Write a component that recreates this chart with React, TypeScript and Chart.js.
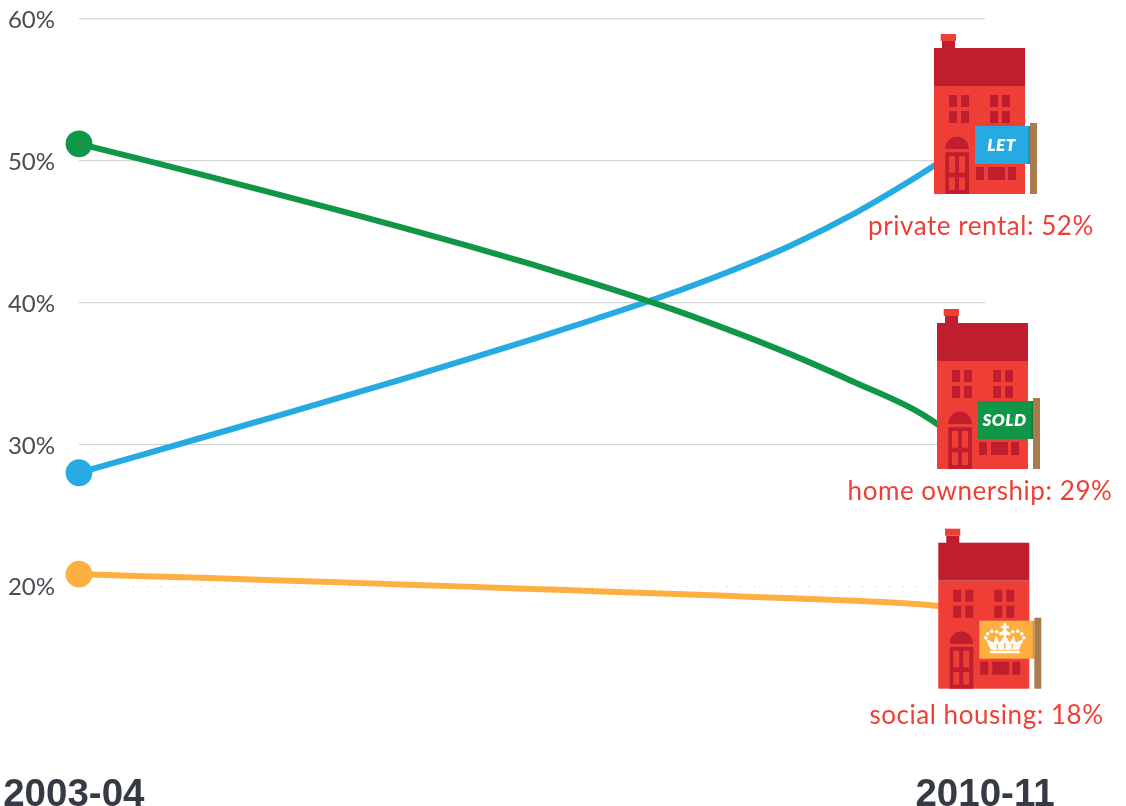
import React, { useEffect, useRef } from "react";
import { Chart, registerables } from "chart.js";

Chart.register(...registerables);

const years = [2003.5, 2004, 2004.5, 2005, 2005.5, 2006, 2006.5, 2007, 2007.5, 2008, 2008.5, 2009, 2009.5, 2010, 2010.5];
const homeOwnership = [51.2, 50.06, 48.9, 47.72, 46.52, 45.29, 44.02, 42.69, 41.29, 39.8, 38.15, 36.35, 34.35, 32.2, 29];
const privateRental = [28.0, 29.3, 30.61, 31.93, 33.26, 34.61, 35.99, 37.41, 38.88, 40.41, 42.11, 44.03, 46.33, 49.03, 52];
const socialHousing = [20.85, 20.71, 20.57, 20.42, 20.27, 20.12, 19.97, 19.81, 19.65, 19.49, 19.32, 19.15, 18.97, 18.72, 18.2];
const periodLabels = ["2003-04", "2010-11"];
const periodTicks = [2003.46, 2010.5];
const endLabels = ["private rental: 52%", "home ownership: 29%", "social housing: 18%"];
const signs = ["LET", "SOLD", "crown"];

const GREEN = "#0f9647";
const BLUE = "#25aae1";
const YELLOW = "#fdb040";
const RED = "#ef3e36";
const DARK = "#be1e2d";
const POLE = "#a97c50";

function crown(ctx: CanvasRenderingContext2D, cx: number, cy: number) {
  ctx.fillStyle = "#fff";
  const dot = (x: number, y: number, r = 1.8) => {
    ctx.beginPath();
    ctx.arc(cx + x, cy + y, r, 0, Math.PI * 2);
    ctx.fill();
  };
  ctx.beginPath();
  ctx.moveTo(cx - 14, cy + 9);
  ctx.lineTo(cx - 19, cy - 2);
  ctx.lineTo(cx - 11, cy + 2);
  ctx.lineTo(cx - 9, cy - 5);
  ctx.lineTo(cx - 5, cy + 2);
  ctx.lineTo(cx, cy - 6);
  ctx.lineTo(cx + 5, cy + 2);
  ctx.lineTo(cx + 9, cy - 5);
  ctx.lineTo(cx + 11, cy + 2);
  ctx.lineTo(cx + 19, cy - 2);
  ctx.lineTo(cx + 14, cy + 9);
  ctx.closePath();
  ctx.fill();
  ctx.fillRect(cx - 15, cy + 10, 30, 2.6);
  [[-19, -3], [-17, -7], [-13, -9.5], [-8, -9], [-4, -7], [4, -7], [8, -9], [13, -9.5], [17, -7], [19, -3]].forEach(([x, y]) => dot(x, y));
  ctx.fillRect(cx - 1.3, cy - 18, 2.6, 11);
  ctx.fillRect(cx - 4, cy - 15, 8, 2.6);
  dot(0, -8, 3);
  ctx.fillStyle = YELLOW;
  ctx.fillRect(cx - 0.7, cy + 2, 1.4, 6);
  ctx.fillRect(cx - 8, cy + 3, 1.4, 5);
  ctx.fillRect(cx + 6.6, cy + 3, 1.4, 5);
}

function house(ctx: CanvasRenderingContext2D, x0: number, top: number, kind: string, color: string) {
  const r = (c: string, x: number, y: number, w: number, h: number) => {
    ctx.fillStyle = c;
    ctx.fillRect(x0 + x, top + y, w, h);
  };
  r(DARK, 8, -7, 13, 8);
  r(RED, 6.7, -14, 15.3, 7);
  r(DARK, 0, 0, 91, 38);
  r(RED, 0, 38, 91, 108);
  [15, 27, 56, 68].forEach((x) => {
    r(DARK, x, 47, 8, 12);
    r(DARK, x, 63, 8, 12);
  });
  ctx.fillStyle = DARK;
  ctx.beginPath();
  ctx.moveTo(x0 + 11.3, top + 101);
  ctx.arc(x0 + 23, top + 100.5, 11.7, Math.PI, 0);
  ctx.lineTo(x0 + 34.7, top + 101);
  ctx.closePath();
  ctx.fill();
  r(DARK, 11.3, 104.3, 23.7, 41.7);
  [15, 25].forEach((x) => {
    r(RED, x, 108, 6, 16.7);
    r(RED, x, 129.3, 6, 12.7);
  });
  r(DARK, 42, 119, 8, 13);
  r(DARK, 54, 119, 17, 13);
  r(DARK, 74, 119, 8, 13);
  r(POLE, 96, 75, 7, 71);
  r(color, 41, 78, 55, 38);
  ctx.globalAlpha = 0.18;
  r("#000", 94.5, 78, 1.5, 38);
  ctx.globalAlpha = 1;
  const cx = x0 + 41 + 26.5;
  const cy = top + 97;
  if (kind === "crown") {
    crown(ctx, cx - 1, cy + 1);
  } else {
    ctx.fillStyle = "#fff";
    ctx.font = "italic 800 17px Lato";
    ctx.textAlign = "center";
    ctx.textBaseline = "middle";
    (ctx as any).letterSpacing = "0.5px";
    ctx.fillText(kind, cx, cy + 1);
  }
}

const housesPlugin = {
  id: "houses",
  afterDatasetsDraw(chart: any) {
    const { ctx, scales } = chart;
    const end = scales.x.getPixelForValue(years[years.length - 1]);
    const y60 = scales.y.getPixelForValue(60);
    const offsets = [
      { dx: -51, top: 29, label: 208, cx: 981, color: BLUE },
      { dx: -48, top: 304, label: 473, cx: 980, color: GREEN },
      { dx: -46.7, top: 523.7, label: 697, cx: 986.5, color: YELLOW },
    ];
    ctx.save();
    offsets.forEach((o, i) => {
      (ctx as any).letterSpacing = "0px";
      house(ctx, end + o.dx, y60 + o.top, signs[i], o.color);
      (ctx as any).letterSpacing = "0.55px";
      ctx.fillStyle = RED;
      ctx.font = "26px Lato";
      ctx.textAlign = "center";
      ctx.textBaseline = "middle";
      ctx.fillText(endLabels[i], o.cx, y60 + o.label);
    });
    ctx.restore();
  },
};

function series(label: string, data: number[], color: string) {
  return {
    label,
    data: years.map((x, i) => ({ x, y: data[i] })),
    borderColor: color,
    backgroundColor: color,
    borderWidth: 6,
    clip: false,
    cubicInterpolationMode: "monotone",
    pointRadius: years.map((_, i) => (i === 0 ? 13.4 : 0)),
    pointBorderWidth: 0,
    pointBackgroundColor: color,
  };
}

export default function App() {
  const ref = useRef<HTMLCanvasElement>(null);
  useEffect(() => {
    document.body.style.margin = "0";
    const chart = new Chart(ref.current as HTMLCanvasElement, {
      type: "line",
      data: {
        datasets: [
          series("home ownership", homeOwnership, GREEN),
          series("private rental", privateRental, BLUE),
          series("social housing", socialHousing, YELLOW),
        ],
      } as any,
      plugins: [housesPlugin],
      options: {
        animation: false,
        responsive: false,
        layout: { padding: { top: 19, right: 141, left: 0, bottom: 0 } },
        plugins: { legend: { display: false }, tooltip: { enabled: false } },
        scales: {
          x: {
            type: "linear",
            min: years[0],
            max: years[years.length - 1],
            grid: { display: false },
            border: { display: false },
            afterBuildTicks(s: any) {
              s.ticks = periodTicks.map((value) => ({ value }));
            },
            afterFit(s: any) {
              s.height = 78;
              s.paddingLeft = 0;
              s.paddingRight = 0;
            },
            ticks: {
              autoSkip: false,
              maxRotation: 0,
              padding: 36,
              color: "#363a45",
              font: { family: "Liberation Sans", weight: "bold", size: 38.5 },
              callback: (v: any) => periodLabels[periodTicks.indexOf(Number(v))] ?? "",
            },
          },
          y: {
            min: 10,
            max: 60,
            grid: {
              drawTicks: false,
              lineWidth: 1.3,
              color: (c: any) => (c.tick.value === 10 ? "transparent" : c.tick.value === 20 ? "#cfcfcf" : "#d6d6d6"),
            },
            border: {
              display: false,
              dash: (c: any) => (c.tick && c.tick.value === 20 ? [1, 12.5] : []),
            },
            afterFit(s: any) {
              s.width = 79;
              s.paddingTop = 0;
              s.paddingBottom = 0;
            },
            ticks: {
              stepSize: 10,
              padding: 24,
              labelOffset: 1.5,
              color: "#4a4b53",
              font: { family: "Lato", size: 24 },
              callback: (v: any) => (v === 10 ? "" : v + "%"),
            },
          },
        },
      } as any,
    });
    return () => chart.destroy();
  }, []);
  return <canvas ref={ref} width={1126} height={806} style={{ display: "block" }} />;
}
